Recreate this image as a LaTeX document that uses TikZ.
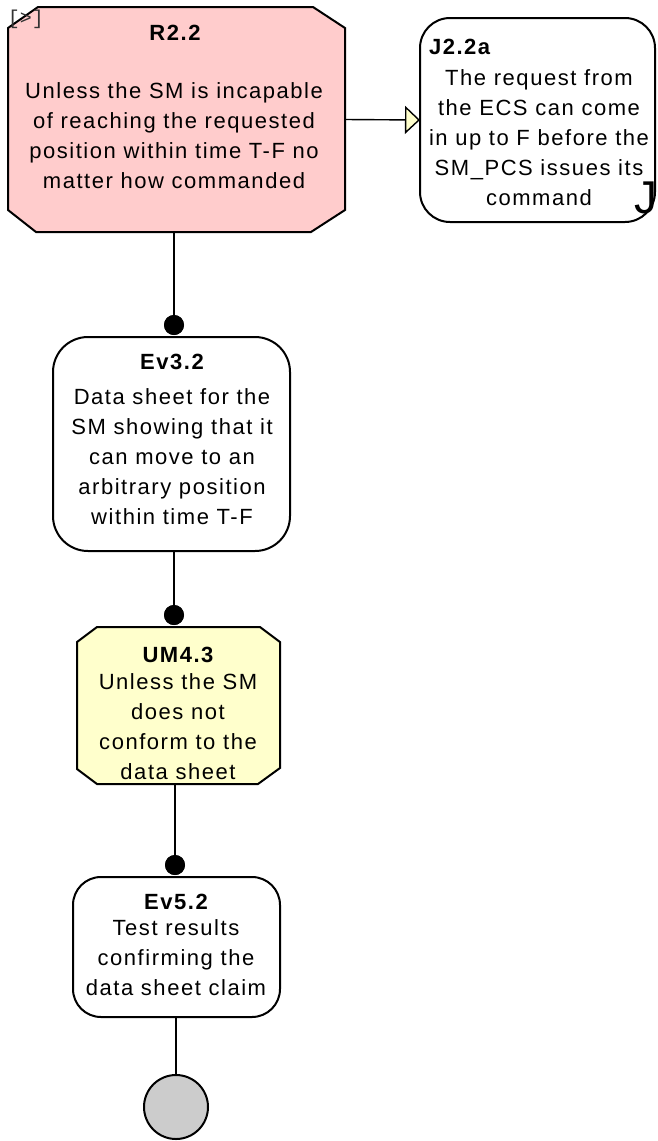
\documentclass[tikz,border=0pt]{standalone}
\usepackage{fontspec}
\setmainfont{Liberation Sans}[LetterSpace=7]
\newfontfamily\bracketfont{Liberation Mono}
\usetikzlibrary{arrows.meta,calc}
\definecolor{solpink}{RGB}{255,204,204}
\definecolor{solyellow}{RGB}{255,255,204}
\definecolor{goalgrey}{RGB}{204,204,204}
\begin{document}
\begin{tikzpicture}[x=1pt,y=-1pt,
  every node/.style={inner sep=0pt, outer sep=0pt},
  frame/.style={draw=black, line width=2pt},
  roundbox/.style={frame, rectangle, rounded corners=#1, fill=white},
  holder/.style={rectangle, draw=none},
  title/.style={font=\fontsize{22}{30}\selectfont\bfseries},
  body/.style={font=\fontsize{22}{30}\selectfont, align=center},
  link/.style={line width=1.4pt},
  dot/.style={circle, fill=black, minimum size=20pt},
]
\useasboundingbox (0,0) rectangle (657,1141);

% connection dots and the final goal circle
\node[dot] (d1) at (174,325) {};
\node[dot] (d2) at (174,615) {};
\node[dot] (d3) at (175,865) {};

% R2.2 : chamfered solution box
\node[holder, minimum width=337pt, minimum height=225pt] (r22) at (176.5,119.5) {};
\draw[frame, fill=solpink]
  ($(r22.north west)+(30,0)$) -- ($(r22.north east)+(-32,0)$) --
  ($(r22.north east)+(0,21)$) -- ($(r22.south east)+(0,-22)$) --
  ($(r22.south east)+(-34,0)$) -- ($(r22.south west)+(28,0)$) --
  ($(r22.south west)+(0,-22)$) -- ($(r22.north west)+(0,21)$) -- cycle;

% J2.2a : justification box
\node[roundbox=30pt, minimum width=235pt, minimum height=204pt] (j22a) at (537.5,120) {};

% Ev3.2 : evidence box
\node[roundbox=35pt, minimum width=237pt, minimum height=214pt] (ev32) at (171.5,444) {};

% UM4.3 : chamfered box
\node[holder, minimum width=203pt, minimum height=157pt] (um43) at (178.5,705.5) {};
\draw[frame, fill=solyellow]
  ($(um43.north west)+(20,0)$) -- ($(um43.north east)+(-20,0)$) --
  ($(um43.north east)+(0,15)$) -- ($(um43.south east)+(0,-16)$) --
  ($(um43.south east)+(-22,0)$) -- ($(um43.south west)+(20,0)$) --
  ($(um43.south west)+(0,-15)$) -- ($(um43.north west)+(0,15)$) -- cycle;

% Ev5.2 : evidence box
\node[roundbox=28pt, minimum width=207pt, minimum height=140pt] (ev52) at (176.5,947) {};

% goal circle
\node[circle, frame, fill=goalgrey, minimum size=64pt] (g) at (176,1107) {};

% connectors
\draw[link] (r22.south -| d1) -- (d1);
\draw[link] (ev32.south -| d2) -- (d2);
\draw[link] (um43.south -| d3) -- (d3);
\draw[link] (ev52.south -| g) -- (g.north);
\draw[link, -{Triangle[length=15pt, width=28pt, fill=solyellow, line width=1.4pt]}]
  (r22.east) -- (j22a.west);

% redraw dots on top of connectors
\node[dot] at (d1) {};
\node[dot] at (d2) {};
\node[dot] at (d3) {};

% texts
\node[font={\bracketfont\fontsize{20}{20}\selectfont}, text=black!80] (r22m) at (26,19) {[>]};
\node[title] (r22t) at (175,33) {R2.2};
\node[body] (r22b) at (174,136) {Unless the SM is incapable\\of reaching the requested\\position within time T-F no\\matter how commanded};

\node[title, anchor=west] (j22at) at (429,47) {J2.2a};
\node[body] (j22ab) at (539,137.5) {The request from\\the ECS can come\\in up to F before the\\SM\_PCS issues its\\command};
\node[font={\fontsize{46}{46}\selectfont}, anchor=base east] (j22aj) at (657,213) {J};

\node[title] (ev32t) at (172,362) {Ev3.2};
\node[body] (ev32b) at (172,457) {Data sheet for the\\SM showing that it\\can move to an\\arbitrary position\\within time T-F};

\node[title] (um43t) at (178,655) {UM4.3};
\node[body] (um43b) at (178,727) {Unless the SM\\does not\\conform to the\\data sheet};

\node[title] (ev52t) at (176,902) {Ev5.2};
\node[body] (ev52b) at (176,958) {Test results\\confirming the\\data sheet claim};
\end{tikzpicture}
\end{document}
